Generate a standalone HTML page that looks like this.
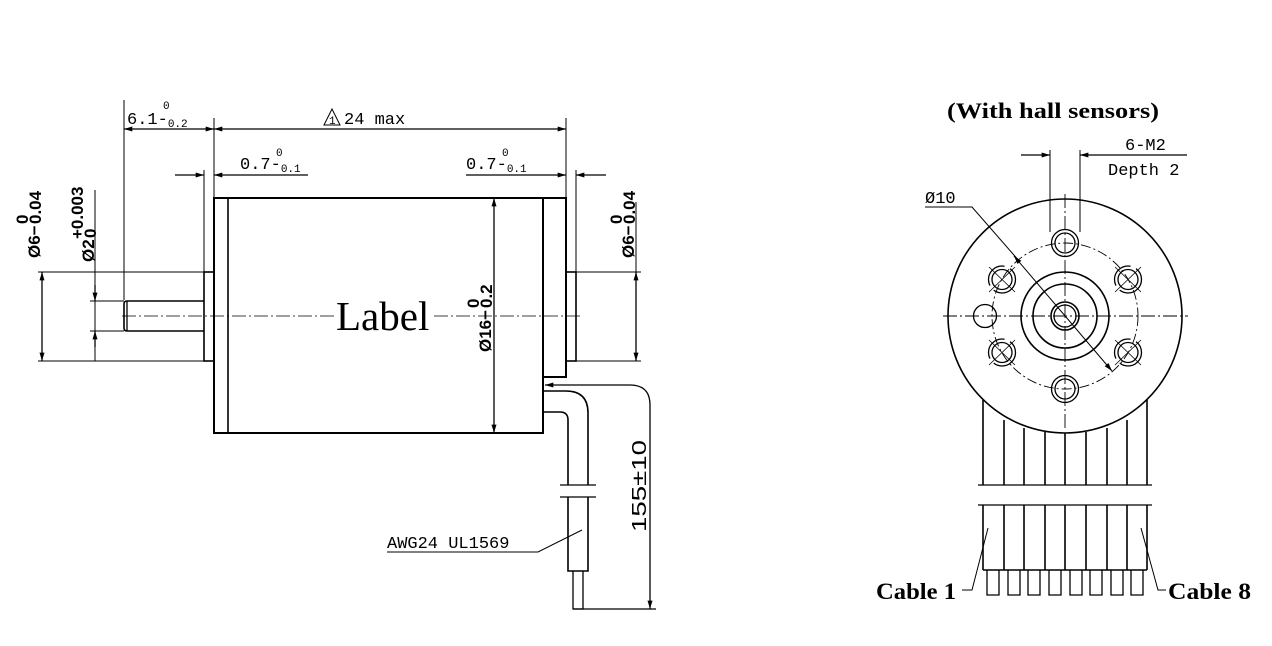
<!DOCTYPE html>
<html><head><meta charset="utf-8"><style>
html,body{margin:0;padding:0;background:#fff}
svg{display:block}
.m{font-family:"Liberation Mono","DejaVu Sans Mono",monospace;font-size:17px;fill:#000}
.s{font-family:"Liberation Sans",sans-serif;font-size:17px;fill:#000;font-weight:bold}
.sm{font-size:11px}
</style></head><body>
<svg width="1272" height="646" viewBox="0 0 1272 646" xmlns="http://www.w3.org/2000/svg">
<defs>
<marker id="a" viewBox="0 0 10 6" refX="10" refY="3" markerWidth="14" markerHeight="5" markerUnits="userSpaceOnUse" orient="auto-start-reverse"><path d="M0,0 L10,3 L0,6 z" fill="#000"/></marker>
</defs>
<g stroke="#000" stroke-width="1.3" fill="none">
<rect x="214" y="198" width="329" height="235" stroke-width="2"/>
<line x1="228" y1="198" x2="228" y2="433" stroke-width="1.6"/>
<rect x="543" y="198" width="23" height="179" stroke-width="2"/>
<rect x="204" y="272" width="10" height="89" stroke-width="1.6"/>
<rect x="566" y="272" width="10" height="89" stroke-width="1.6"/>
<path d="M204,301 H127 Q124,301 124,304 V328 Q124,331 127,331 H204" stroke-width="1.6"/>
<line x1="127" y1="301" x2="127" y2="331"/>
<line x1="122" y1="316" x2="334" y2="316" stroke-width="0.8" stroke-dasharray="14,3,2,3"/>
<line x1="434" y1="316" x2="582" y2="316" stroke-width="0.8" stroke-dasharray="14,3,2,3"/>
<path d="M543,391 H566 Q588,391 588,413 V485" stroke-width="1.6"/>
<path d="M543,412 H560 Q568,412 568,420 V485" stroke-width="1.6"/>
<line x1="560" y1="485" x2="596" y2="485"/>
<line x1="560" y1="497" x2="596" y2="497"/>
<path d="M568,497 V571 H588 V497" stroke-width="1.6"/>
<path d="M573,571 V609 H583 V571" stroke-width="1.3"/>
<path d="M630,385 Q650,385 650,405 V609" marker-end="url(#a)" />
<line x1="630" y1="385" x2="545" y2="385" marker-end="url(#a)"/>
<line x1="573" y1="609" x2="656" y2="609"/>
<polyline points="387,552 538,552 582,530" stroke-width="1"/>
<line x1="124" y1="100" x2="124" y2="300" stroke-width="1"/>
<line x1="214" y1="118" x2="214" y2="197" stroke-width="1"/>
<line x1="566" y1="118" x2="566" y2="197" stroke-width="1"/>
<line x1="124" y1="129" x2="214" y2="129" marker-start="url(#a)" marker-end="url(#a)"/>
<line x1="214" y1="129" x2="566" y2="129" marker-start="url(#a)" marker-end="url(#a)"/>
<line x1="204" y1="170" x2="204" y2="272" stroke-width="1"/>
<line x1="576" y1="170" x2="576" y2="272" stroke-width="1"/>
<line x1="175" y1="175" x2="204" y2="175" marker-end="url(#a)"/>
<line x1="308" y1="175" x2="214" y2="175" marker-end="url(#a)"/>
<line x1="466" y1="175" x2="566" y2="175" marker-end="url(#a)"/>
<line x1="606" y1="175" x2="576" y2="175" marker-end="url(#a)"/>
<line x1="38" y1="272" x2="204" y2="272" stroke-width="1"/>
<line x1="38" y1="361" x2="204" y2="361" stroke-width="1"/>
<line x1="42" y1="272" x2="42" y2="361" marker-start="url(#a)" marker-end="url(#a)"/>
<line x1="90" y1="301" x2="124" y2="301" stroke-width="1"/>
<line x1="90" y1="331" x2="124" y2="331" stroke-width="1"/>
<line x1="95" y1="190" x2="95" y2="361" stroke-width="1"/>
<line x1="95" y1="285" x2="95" y2="301" marker-end="url(#a)"/>
<line x1="95" y1="347" x2="95" y2="331" marker-end="url(#a)"/>
<line x1="576" y1="272" x2="641" y2="272" stroke-width="1"/>
<line x1="576" y1="361" x2="641" y2="361" stroke-width="1"/>
<line x1="636" y1="272" x2="636" y2="361" marker-start="url(#a)" marker-end="url(#a)"/>
<line x1="636" y1="202" x2="636" y2="272" stroke-width="1"/>
<line x1="494" y1="198" x2="494" y2="433" marker-start="url(#a)" marker-end="url(#a)"/>
<circle cx="1065" cy="316" r="117" stroke-width="1.6"/>
<circle cx="1065" cy="316" r="73" stroke-width="0.9" stroke-dasharray="10,3,2,3"/>
<circle cx="1065" cy="316" r="44" stroke-width="1.6"/>
<circle cx="1065" cy="316" r="32" stroke-width="1.6"/>
<circle cx="1065" cy="316" r="14" stroke-width="1.6"/>
<circle cx="1065" cy="316" r="11" stroke-width="1.3"/>
<line x1="943" y1="316" x2="1188" y2="316" stroke-width="0.9" stroke-dasharray="14,3,2,3"/>
<line x1="1065" y1="194" x2="1065" y2="430" stroke-width="0.9" stroke-dasharray="14,3,2,3"/>
<g stroke-width="1.3">
<circle cx="1065" cy="243" r="10"/><circle cx="1065" cy="243" r="13.5"/>
<circle cx="1065" cy="389" r="10"/><circle cx="1065" cy="389" r="13.5"/>
<circle cx="1002" cy="279.5" r="10"/><circle cx="1002" cy="279.5" r="13.5" stroke-dasharray="30,6"/>
<circle cx="1128" cy="279.5" r="10"/><circle cx="1128" cy="279.5" r="13.5" stroke-dasharray="30,6"/>
<circle cx="1002" cy="352.5" r="10"/><circle cx="1002" cy="352.5" r="13.5" stroke-dasharray="30,6"/>
<circle cx="1128" cy="352.5" r="10"/><circle cx="1128" cy="352.5" r="13.5" stroke-dasharray="30,6"/>
<circle cx="985" cy="316" r="11.5"/>
</g>
<g stroke-width="0.8">
<line x1="989" y1="267" x2="1015" y2="292"/><line x1="989" y1="292" x2="1015" y2="267"/>
<line x1="1115" y1="267" x2="1141" y2="292"/><line x1="1115" y1="292" x2="1141" y2="267"/>
<line x1="989" y1="340" x2="1015" y2="365"/><line x1="989" y1="365" x2="1015" y2="340"/>
<line x1="1115" y1="340" x2="1141" y2="365"/><line x1="1115" y1="365" x2="1141" y2="340"/>
</g>
<line x1="1050" y1="150" x2="1050" y2="232" stroke-width="1"/>
<line x1="1080" y1="150" x2="1080" y2="232" stroke-width="1"/>
<line x1="1021" y1="155" x2="1050" y2="155" marker-end="url(#a)"/>
<line x1="1187" y1="155" x2="1080" y2="155" marker-end="url(#a)"/>
<polyline points="925,207 972,207 1020,262" stroke-width="1"/>
<line x1="1014" y1="256" x2="1112" y2="371" stroke-width="1" marker-start="url(#a)" marker-end="url(#a)"/>
<g stroke-width="1.6">
<line x1="983" y1="400" x2="983" y2="485"/><line x1="1004" y1="420" x2="1004" y2="485"/>
<line x1="1024" y1="428" x2="1024" y2="485"/><line x1="1045" y1="432" x2="1045" y2="485"/>
<line x1="1065" y1="433" x2="1065" y2="485"/><line x1="1086" y1="432" x2="1086" y2="485"/>
<line x1="1107" y1="428" x2="1107" y2="485"/><line x1="1127" y1="420" x2="1127" y2="485"/>
<line x1="1147" y1="400" x2="1147" y2="485"/>
<line x1="983" y1="505" x2="983" y2="570"/><line x1="1004" y1="505" x2="1004" y2="570"/>
<line x1="1024" y1="505" x2="1024" y2="570"/><line x1="1045" y1="505" x2="1045" y2="570"/>
<line x1="1065" y1="505" x2="1065" y2="570"/><line x1="1086" y1="505" x2="1086" y2="570"/>
<line x1="1107" y1="505" x2="1107" y2="570"/><line x1="1127" y1="505" x2="1127" y2="570"/>
<line x1="1147" y1="505" x2="1147" y2="570"/>
<line x1="983" y1="570" x2="1147" y2="570"/>
</g>
<line x1="978" y1="485" x2="1152" y2="485" stroke-width="1.3"/>
<line x1="978" y1="505" x2="1152" y2="505" stroke-width="1.3"/>
<g stroke-width="1.3">
<path d="M987,570 V595 H999 V570"/><path d="M1008,570 V595 H1020 V570"/>
<path d="M1028,570 V595 H1040 V570"/><path d="M1049,570 V595 H1061 V570"/>
<path d="M1070,570 V595 H1082 V570"/><path d="M1090,570 V595 H1102 V570"/>
<path d="M1111,570 V595 H1123 V570"/><path d="M1131,570 V595 H1143 V570"/>
</g>
<polyline points="962,590 972,590 988,528" stroke-width="1"/>
<polyline points="1166,590 1158,590 1141,528" stroke-width="1"/>
</g>
<text x="336" y="330" font-family="Liberation Serif,serif" font-size="41">Label</text>
<text x="127" y="124" class="m">6.1-<tspan class="sm" dy="3">0.2</tspan></text>
<text x="163" y="109" class="m sm">0</text>
<polygon points="332,109 324,125 340,125" fill="none" stroke="#000" stroke-width="1"/>
<text x="329" y="124" class="m sm">1</text>
<text x="344" y="124" class="m">24 max</text>
<text x="240" y="169" class="m">0.7-<tspan class="sm" dy="3">0.1</tspan></text>
<text x="276" y="156" class="m sm">0</text>
<text x="466" y="169" class="m">0.7-<tspan class="sm" dy="3">0.1</tspan></text>
<text x="502" y="156" class="m sm">0</text>
<g transform="translate(40,258) rotate(-90)"><text class="s">Ø6−</text><text x="34" y="1" class="s" font-size="11">0.04</text><text x="34" y="-12" class="s" font-size="11">0</text></g>
<g transform="translate(94,262) rotate(-90)"><text class="s">Ø2</text><text x="23" y="-11" class="s" font-size="11">+0.003</text><text x="24" y="2" class="s" font-size="11">0</text></g>
<g transform="translate(634,258) rotate(-90)"><text class="s">Ø6−</text><text x="34" y="1" class="s" font-size="11">0.04</text><text x="34" y="-12" class="s" font-size="11">0</text></g>
<g transform="translate(491,352) rotate(-90)"><text class="s">Ø16−</text><text x="44" y="1" class="s" font-size="11">0.2</text><text x="44" y="-12" class="s" font-size="11">0</text></g>
<g transform="translate(646,532) rotate(-90)"><text style="font-family:'Liberation Sans',sans-serif;font-size:20px;font-weight:normal" fill="#000" textLength="92" lengthAdjust="spacingAndGlyphs">155±10</text></g>
<text x="387" y="548" class="m">AWG24 UL1569</text>
<text x="947" y="118" font-family="Liberation Serif,serif" font-size="22" font-weight="bold" textLength="212" lengthAdjust="spacingAndGlyphs">(With hall sensors)</text>
<text x="1125" y="150" class="m">6-M2</text>
<text x="1108" y="175" class="m">Depth 2</text>
<text x="925" y="203" class="m">Ø10</text>
<text x="876" y="599" font-family="Liberation Serif,serif" font-size="23" font-weight="bold" textLength="80" lengthAdjust="spacingAndGlyphs">Cable 1</text>
<text x="1168" y="599" font-family="Liberation Serif,serif" font-size="23" font-weight="bold" textLength="83" lengthAdjust="spacingAndGlyphs">Cable 8</text>
</svg>
</body></html>
